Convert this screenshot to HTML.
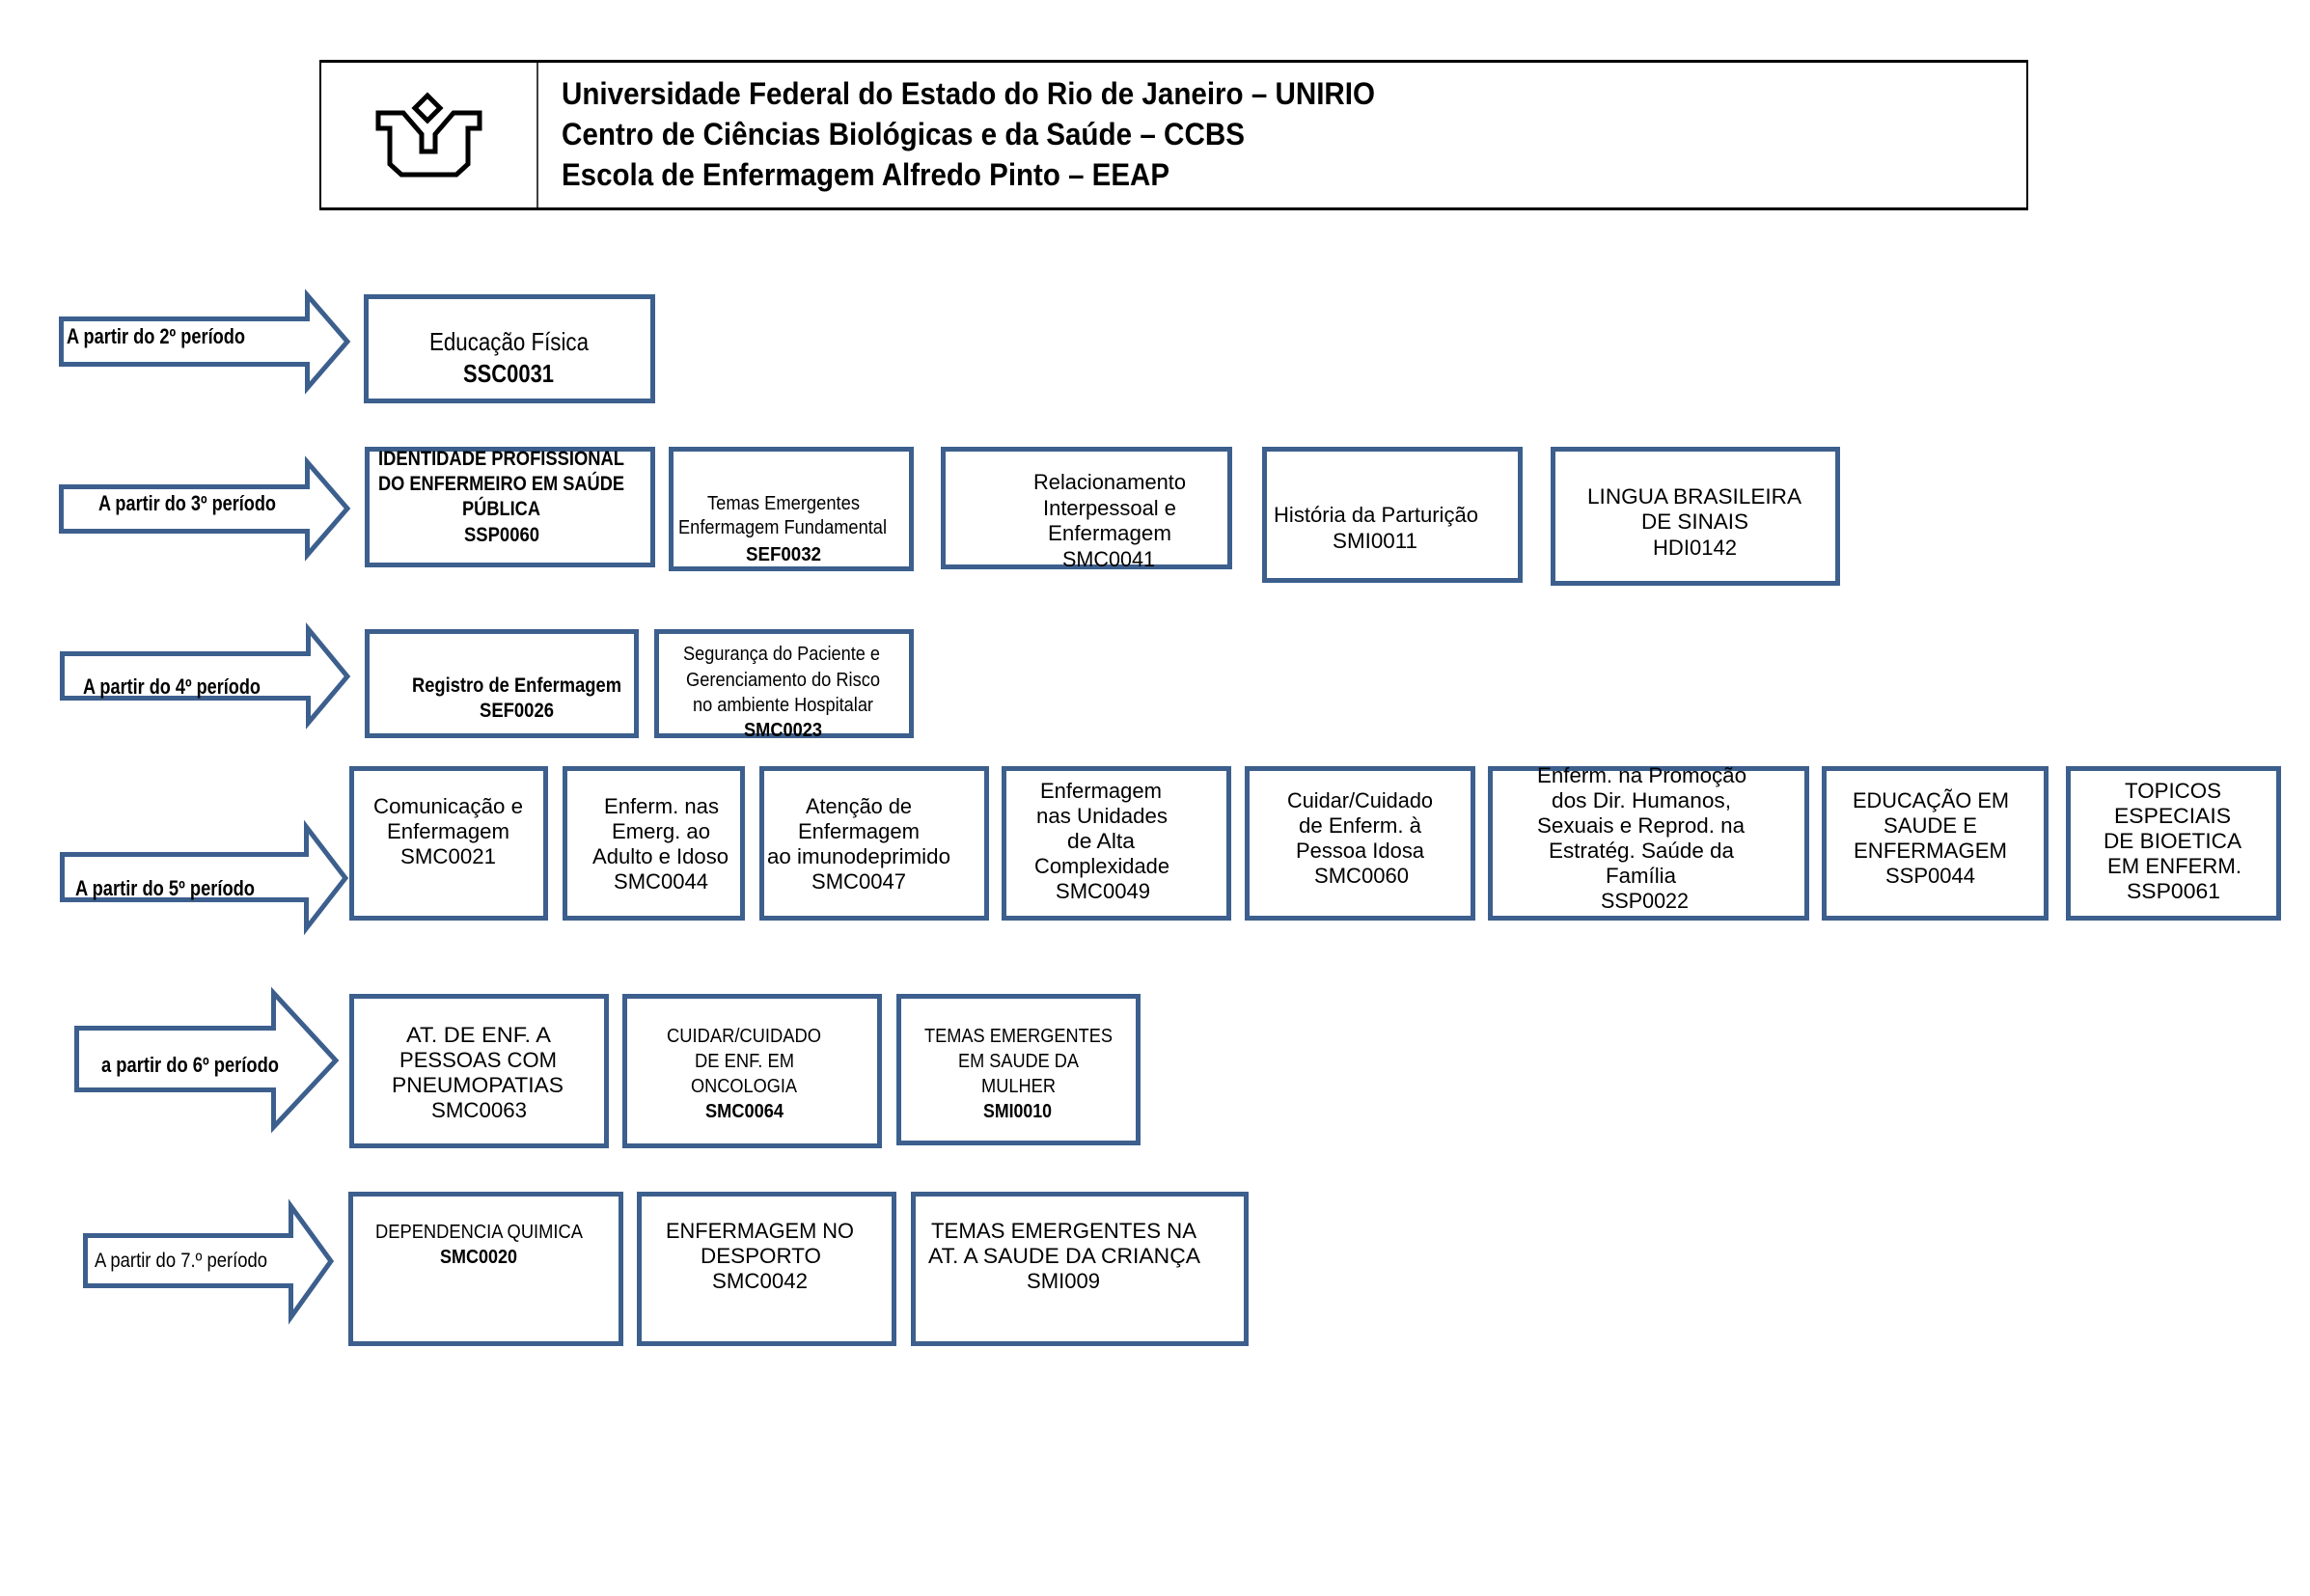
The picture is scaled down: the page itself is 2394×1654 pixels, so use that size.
<!DOCTYPE html>
<html>
<head>
<meta charset="utf-8">
<style>
  html, body { margin: 0; padding: 0; background: #ffffff; }
  svg { display: block; }
  text { font-family: "Liberation Sans", Arial, sans-serif; fill: #000; }
  .h { font-size: 32px; font-weight: bold; }
  .a { font-size: 22px; font-weight: bold; }
  .ar { font-size: 21px; }
  .r { font-size: 22px; }
  .rb { font-size: 22px; font-weight: bold; }
  .n { font-size: 20px; }
  .nb { font-size: 20px; font-weight: bold; }
  .b21 { font-size: 21px; font-weight: bold; }
  .e { font-size: 26px; }
  .eb { font-size: 26px; font-weight: bold; }
  .box { fill: #ffffff; stroke: #3c5f8d; stroke-width: 5; }
  .arr { fill: #ffffff; stroke: #3c5f8d; stroke-width: 5; stroke-linejoin: miter; }
</style>
</head>
<body>
<svg width="2394" height="1654" viewBox="0 0 2394 1654" xmlns="http://www.w3.org/2000/svg">
  <rect x="0" y="0" width="2394" height="1654" fill="#ffffff"/>

  <!-- Header -->
  <line x1="331" y1="63.5" x2="2102" y2="63.5" stroke="#000" stroke-width="3"/>
  <line x1="331" y1="216.5" x2="2102" y2="216.5" stroke="#000" stroke-width="3"/>
  <line x1="332" y1="62" x2="332" y2="218" stroke="#000" stroke-width="2"/>
  <line x1="2101" y1="62" x2="2101" y2="218" stroke="#000" stroke-width="2"/>
  <line x1="557" y1="62" x2="557" y2="218" stroke="#000" stroke-width="1.5"/>

  <!-- Logo -->
  <g fill="none" stroke="#000" stroke-width="5" stroke-linejoin="miter">
    <polygon points="443,99 456,112 443,125 430,112"/>
    <path d="M392,117 H418 L437,139 V157 H451 V139 L470,117 H497 V133 H485 V170 L473,181 H416 L404,170 V133 H392 Z"/>
  </g>

  <text class="h" x="582" y="108" textLength="843" lengthAdjust="spacingAndGlyphs">Universidade Federal do Estado do Rio de Janeiro – UNIRIO</text>
  <text class="h" x="582" y="150" textLength="708" lengthAdjust="spacingAndGlyphs">Centro de Ciências Biológicas e da Saúde – CCBS</text>
  <text class="h" x="582" y="192" textLength="630" lengthAdjust="spacingAndGlyphs">Escola de Enfermagem Alfredo Pinto – EEAP</text>

  <!-- Arrows -->
  <polygon class="arr" points="63.5,330.5 318.5,330.5 318.5,306 360,354 318.5,402 318.5,377.5 63.5,377.5"/>
  <polygon class="arr" points="63.5,504.5 318.5,504.5 318.5,479 360,527 318.5,575 318.5,550.5 63.5,550.5"/>
  <polygon class="arr" points="64.5,677.5 319.5,677.5 319.5,652 360,701 319.5,749 319.5,723.5 64.5,723.5"/>
  <polygon class="arr" points="64.5,885.5 317.5,885.5 317.5,857 358,910 317.5,962 317.5,932.5 64.5,932.5"/>
  <polygon class="arr" points="79.5,1065.5 283.5,1065.5 283.5,1029 348,1099 283.5,1168 283.5,1129.5 79.5,1129.5"/>
  <polygon class="arr" points="88.5,1280.5 301.5,1280.5 301.5,1250 343,1307 301.5,1365 301.5,1332.5 88.5,1332.5"/>

  <text class="a" x="69" y="356" textLength="185" lengthAdjust="spacingAndGlyphs">A partir do 2º período</text>
  <text class="a" x="102" y="529" textLength="184" lengthAdjust="spacingAndGlyphs">A partir do 3º período</text>
  <text class="a" x="86" y="719" textLength="184" lengthAdjust="spacingAndGlyphs">A partir do 4º período</text>
  <text class="a" x="78" y="928" textLength="186" lengthAdjust="spacingAndGlyphs">A partir do 5º período</text>
  <text class="a" x="105" y="1111" textLength="184" lengthAdjust="spacingAndGlyphs">a partir do 6º período</text>
  <text class="ar" x="98" y="1313" textLength="179" lengthAdjust="spacingAndGlyphs">A partir do 7.º período</text>

  <!-- Boxes -->
  <rect class="box" x="379.5" y="307.5" width="297" height="108"/>
  <rect class="box" x="380.5" y="465.5" width="296" height="120"/>
  <rect class="box" x="695.5" y="465.5" width="249" height="124"/>
  <rect class="box" x="977.5" y="465.5" width="297" height="122"/>
  <rect class="box" x="1310.5" y="465.5" width="265" height="136"/>
  <rect class="box" x="1609.5" y="465.5" width="295" height="139"/>
  <rect class="box" x="380.5" y="654.5" width="279" height="108"/>
  <rect class="box" x="680.5" y="654.5" width="264" height="108"/>
  <rect class="box" x="364.5" y="796.5" width="201" height="155"/>
  <rect class="box" x="585.5" y="796.5" width="184" height="155"/>
  <rect class="box" x="789.5" y="796.5" width="233" height="155"/>
  <rect class="box" x="1040.5" y="796.5" width="233" height="155"/>
  <rect class="box" x="1292.5" y="796.5" width="234" height="155"/>
  <rect class="box" x="1544.5" y="796.5" width="328" height="155"/>
  <rect class="box" x="1890.5" y="796.5" width="230" height="155"/>
  <rect class="box" x="2143.5" y="796.5" width="218" height="155"/>
  <rect class="box" x="364.5" y="1032.5" width="264" height="155"/>
  <rect class="box" x="647.5" y="1032.5" width="264" height="155"/>
  <rect class="box" x="931.5" y="1032.5" width="248" height="152"/>
  <rect class="box" x="363.5" y="1237.5" width="280" height="155"/>
  <rect class="box" x="662.5" y="1237.5" width="264" height="155"/>
  <rect class="box" x="946.5" y="1237.5" width="345" height="155"/>

  <!-- Row 2 text -->
  <text class="e" x="445" y="363" textLength="165" lengthAdjust="spacingAndGlyphs">Educação Física</text>
  <text class="eb" x="480" y="396" textLength="94" lengthAdjust="spacingAndGlyphs">SSC0031</text>

  <!-- Row 3 text -->
  <text class="b21" x="392" y="482" textLength="255" lengthAdjust="spacingAndGlyphs">IDENTIDADE PROFISSIONAL</text>
  <text class="b21" x="392" y="508" textLength="255" lengthAdjust="spacingAndGlyphs">DO ENFERMEIRO EM SAÚDE</text>
  <text class="b21" x="479" y="534" textLength="81" lengthAdjust="spacingAndGlyphs">PÚBLICA</text>
  <text class="b21" x="481" y="561" textLength="78" lengthAdjust="spacingAndGlyphs">SSP0060</text>

  <text class="n" x="733" y="528" textLength="158" lengthAdjust="spacingAndGlyphs">Temas Emergentes</text>
  <text class="n" x="703" y="553" textLength="216" lengthAdjust="spacingAndGlyphs">Enfermagem Fundamental</text>
  <text class="nb" x="773" y="581" textLength="78" lengthAdjust="spacingAndGlyphs">SEF0032</text>

  <text class="r" x="1071" y="507" textLength="158" lengthAdjust="spacingAndGlyphs">Relacionamento</text>
  <text class="r" x="1081" y="534" textLength="138" lengthAdjust="spacingAndGlyphs">Interpessoal e</text>
  <text class="r" x="1086" y="560" textLength="128" lengthAdjust="spacingAndGlyphs">Enfermagem</text>
  <text class="r" x="1101" y="587" textLength="96" lengthAdjust="spacingAndGlyphs">SMC0041</text>

  <text class="r" x="1320" y="541" textLength="212" lengthAdjust="spacingAndGlyphs">História da Parturição</text>
  <text class="r" x="1381" y="568" textLength="88" lengthAdjust="spacingAndGlyphs">SMI0011</text>

  <text class="r" x="1645" y="522" textLength="222" lengthAdjust="spacingAndGlyphs">LINGUA BRASILEIRA</text>
  <text class="r" x="1701" y="548" textLength="111" lengthAdjust="spacingAndGlyphs">DE SINAIS</text>
  <text class="r" x="1713" y="575" textLength="87" lengthAdjust="spacingAndGlyphs">HDI0142</text>

  <!-- Row 4 text -->
  <text class="b21" x="427" y="717" textLength="217" lengthAdjust="spacingAndGlyphs">Registro de Enfermagem</text>
  <text class="b21" x="497" y="743" textLength="77" lengthAdjust="spacingAndGlyphs">SEF0026</text>

  <text class="n" x="708" y="684" textLength="204" lengthAdjust="spacingAndGlyphs">Segurança do Paciente e</text>
  <text class="n" x="711" y="711" textLength="201" lengthAdjust="spacingAndGlyphs">Gerenciamento do Risco</text>
  <text class="n" x="718" y="737" textLength="187" lengthAdjust="spacingAndGlyphs">no ambiente Hospitalar</text>
  <text class="nb" x="771" y="763" textLength="81" lengthAdjust="spacingAndGlyphs">SMC0023</text>

  <!-- Row 5 text -->
  <text class="r" x="387" y="843" textLength="155" lengthAdjust="spacingAndGlyphs">Comunicação e</text>
  <text class="r" x="401" y="869" textLength="127" lengthAdjust="spacingAndGlyphs">Enfermagem</text>
  <text class="r" x="415" y="895" textLength="99" lengthAdjust="spacingAndGlyphs">SMC0021</text>

  <text class="r" x="626" y="843" textLength="119" lengthAdjust="spacingAndGlyphs">Enferm. nas</text>
  <text class="r" x="634" y="869" textLength="102" lengthAdjust="spacingAndGlyphs">Emerg. ao</text>
  <text class="r" x="614" y="895" textLength="141" lengthAdjust="spacingAndGlyphs">Adulto e Idoso</text>
  <text class="r" x="636" y="921" textLength="98" lengthAdjust="spacingAndGlyphs">SMC0044</text>

  <text class="r" x="835" y="843" textLength="110" lengthAdjust="spacingAndGlyphs">Atenção de</text>
  <text class="r" x="827" y="869" textLength="126" lengthAdjust="spacingAndGlyphs">Enfermagem</text>
  <text class="r" x="795" y="895" textLength="190" lengthAdjust="spacingAndGlyphs">ao imunodeprimido</text>
  <text class="r" x="841" y="921" textLength="98" lengthAdjust="spacingAndGlyphs">SMC0047</text>

  <text class="r" x="1078" y="827" textLength="126" lengthAdjust="spacingAndGlyphs">Enfermagem</text>
  <text class="r" x="1074" y="853" textLength="136" lengthAdjust="spacingAndGlyphs">nas Unidades</text>
  <text class="r" x="1106" y="879" textLength="70" lengthAdjust="spacingAndGlyphs">de Alta</text>
  <text class="r" x="1072" y="905" textLength="140" lengthAdjust="spacingAndGlyphs">Complexidade</text>
  <text class="r" x="1094" y="931" textLength="98" lengthAdjust="spacingAndGlyphs">SMC0049</text>

  <text class="r" x="1334" y="837" textLength="151" lengthAdjust="spacingAndGlyphs">Cuidar/Cuidado</text>
  <text class="r" x="1346" y="863" textLength="127" lengthAdjust="spacingAndGlyphs">de Enferm. à</text>
  <text class="r" x="1343" y="889" textLength="133" lengthAdjust="spacingAndGlyphs">Pessoa Idosa</text>
  <text class="r" x="1362" y="915" textLength="98" lengthAdjust="spacingAndGlyphs">SMC0060</text>

  <text class="r" x="1593" y="811" textLength="217" lengthAdjust="spacingAndGlyphs">Enferm. na Promoção</text>
  <text class="r" x="1608" y="837" textLength="186" lengthAdjust="spacingAndGlyphs">dos Dir. Humanos,</text>
  <text class="r" x="1593" y="863" textLength="215" lengthAdjust="spacingAndGlyphs">Sexuais e Reprod. na</text>
  <text class="r" x="1605" y="889" textLength="192" lengthAdjust="spacingAndGlyphs">Estratég. Saúde da</text>
  <text class="r" x="1664" y="915" textLength="73" lengthAdjust="spacingAndGlyphs">Família</text>
  <text class="r" x="1659" y="941" textLength="91" lengthAdjust="spacingAndGlyphs">SSP0022</text>

  <text class="r" x="1920" y="837" textLength="162" lengthAdjust="spacingAndGlyphs">EDUCAÇÃO EM</text>
  <text class="r" x="1952" y="863" textLength="97" lengthAdjust="spacingAndGlyphs">SAUDE E</text>
  <text class="r" x="1921" y="889" textLength="159" lengthAdjust="spacingAndGlyphs">ENFERMAGEM</text>
  <text class="r" x="1954" y="915" textLength="93" lengthAdjust="spacingAndGlyphs">SSP0044</text>

  <text class="r" x="2202" y="827" textLength="100" lengthAdjust="spacingAndGlyphs">TOPICOS</text>
  <text class="r" x="2191" y="853" textLength="121" lengthAdjust="spacingAndGlyphs">ESPECIAIS</text>
  <text class="r" x="2180" y="879" textLength="143" lengthAdjust="spacingAndGlyphs">DE BIOETICA</text>
  <text class="r" x="2184" y="905" textLength="139" lengthAdjust="spacingAndGlyphs">EM ENFERM.</text>
  <text class="r" x="2204" y="931" textLength="97" lengthAdjust="spacingAndGlyphs">SSP0061</text>

  <!-- Row 6 text -->
  <text class="r" x="421" y="1080" textLength="150" lengthAdjust="spacingAndGlyphs">AT. DE ENF. A</text>
  <text class="r" x="414" y="1106" textLength="163" lengthAdjust="spacingAndGlyphs">PESSOAS COM</text>
  <text class="r" x="406" y="1132" textLength="178" lengthAdjust="spacingAndGlyphs">PNEUMOPATIAS</text>
  <text class="r" x="447" y="1158" textLength="99" lengthAdjust="spacingAndGlyphs">SMC0063</text>

  <text class="n" x="691" y="1080" textLength="160" lengthAdjust="spacingAndGlyphs">CUIDAR/CUIDADO</text>
  <text class="n" x="720" y="1106" textLength="103" lengthAdjust="spacingAndGlyphs">DE ENF. EM</text>
  <text class="n" x="716" y="1132" textLength="110" lengthAdjust="spacingAndGlyphs">ONCOLOGIA</text>
  <text class="nb" x="731" y="1158" textLength="81" lengthAdjust="spacingAndGlyphs">SMC0064</text>

  <text class="n" x="958" y="1080" textLength="195" lengthAdjust="spacingAndGlyphs">TEMAS EMERGENTES</text>
  <text class="n" x="993" y="1106" textLength="125" lengthAdjust="spacingAndGlyphs">EM SAUDE DA</text>
  <text class="n" x="1017" y="1132" textLength="77" lengthAdjust="spacingAndGlyphs">MULHER</text>
  <text class="nb" x="1019" y="1158" textLength="71" lengthAdjust="spacingAndGlyphs">SMI0010</text>

  <!-- Row 7 text -->
  <text class="n" x="389" y="1283" textLength="215" lengthAdjust="spacingAndGlyphs">DEPENDENCIA QUIMICA</text>
  <text class="nb" x="456" y="1309" textLength="80" lengthAdjust="spacingAndGlyphs">SMC0020</text>

  <text class="r" x="690" y="1283" textLength="195" lengthAdjust="spacingAndGlyphs">ENFERMAGEM NO</text>
  <text class="r" x="726" y="1309" textLength="125" lengthAdjust="spacingAndGlyphs">DESPORTO</text>
  <text class="r" x="738" y="1335" textLength="99" lengthAdjust="spacingAndGlyphs">SMC0042</text>

  <text class="r" x="965" y="1283" textLength="275" lengthAdjust="spacingAndGlyphs">TEMAS EMERGENTES NA</text>
  <text class="r" x="962" y="1309" textLength="282" lengthAdjust="spacingAndGlyphs">AT. A SAUDE DA CRIANÇA</text>
  <text class="r" x="1064" y="1335" textLength="76" lengthAdjust="spacingAndGlyphs">SMI009</text>
</svg>
</body>
</html>
